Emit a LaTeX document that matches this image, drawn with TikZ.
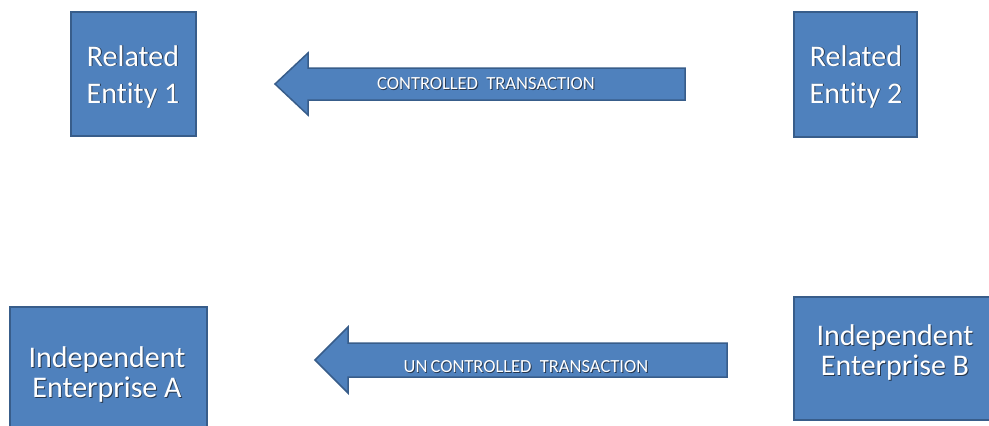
\documentclass[tikz,border=0pt]{standalone}
\usepackage{fontspec}
\setmainfont{Carlito}[Ligatures={NoCommon}]
\definecolor{boxblue}{HTML}{4F81BD}
\definecolor{boxedge}{HTML}{385D8A}
\definecolor{shadowgray}{HTML}{27384F}
\newcommand\shadowed[1]{\leavevmode\rlap{\kern0.9pt\raisebox{-0.9pt}{\textcolor{shadowgray}{#1}}}#1}
\tikzset{
  entity/.style={draw=boxedge, fill=boxblue, line width=1.5pt},
  flow/.style={draw=boxedge, fill=boxblue, line width=1.5pt, line join=miter},
  relatedtext/.style={text=white, align=center, font=\fontsize{30}{37}\selectfont},
  independenttext/.style={text=white, align=center, font=\fontsize{30}{30}\selectfont},
  flowtext/.style={text=white, font=\fontsize{18.5}{20}\selectfont}
}
\begin{document}
\begin{tikzpicture}[x=1pt,y=-1pt]
   \useasboundingbox (0,0) rectangle (989,426);
   \fill[white] (0,0) rectangle (989,426);
   % related entities
   \draw[entity] (71,12) rectangle (196,136);
   \node[relatedtext] (rel1) at (133,77) {\shadowed{Related}\\\shadowed{Entity 1}};
   \draw[entity] (794,12) rectangle (917,137);
   \node[relatedtext] (rel2) at (856,77) {\shadowed{Related}\\\shadowed{Entity 2}};
   % independent enterprises
   \draw[entity] (10,307) rectangle (207,430);
   \node[independenttext] (indA) at (107,375) {\shadowed{Independent}\\\shadowed{Enterprise A}};
   \draw[entity] (794,297) rectangle (991,420);
   \node[independenttext] (indB) at (895,353) {\shadowed{Independent}\\\shadowed{Enterprise B}};
   % transactions
   \draw[flow] (685,68)--(308,68)--(308,53)--(275,84)--(308,115)--(308,100)--(685,100)--cycle;
   \node[flowtext] (ctrl) at (486,84) {\shadowed{CONTROLLED\ \ TRANSACTION}};
   \draw[flow] (727,343)--(348,343)--(348,327)--(315,360)--(348,393)--(348,377)--(727,377)--cycle;
   \node[flowtext] (unctrl) at (526,367) {\shadowed{UN\,CONTROLLED\ \ TRANSACTION}};
\end{tikzpicture}
\end{document}
